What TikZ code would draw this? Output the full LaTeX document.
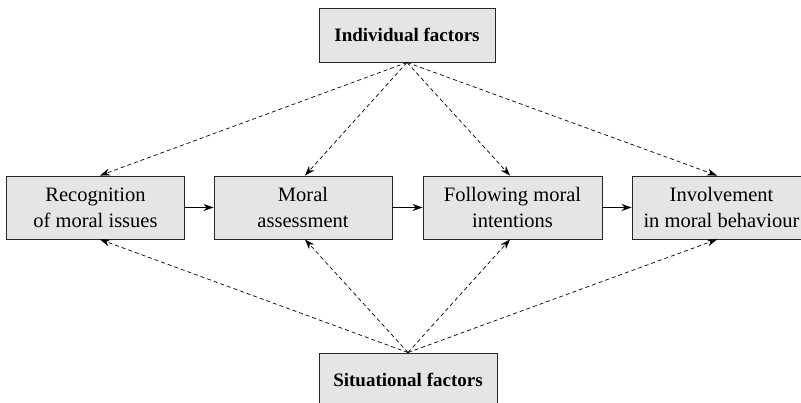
\documentclass[tikz,border=0pt]{standalone}
\usepackage{fontspec}
\setmainfont{Liberation Serif}
\usetikzlibrary{arrows.meta}
\begin{document}
\begin{tikzpicture}[x=1pt,y=1pt,
  box/.style={draw=black!85,line width=0.9pt,fill=black!10,align=center,inner sep=0pt,
    font=\fontsize{20.5}{26}\selectfont},
  stagebox/.style={box,minimum width=178pt,minimum height=63pt},
  factorbox/.style={box,minimum width=176pt,minimum height=54pt,font=\fontsize{19}{26}\selectfont\bfseries},
  dasharrow/.style={dashed,dash pattern=on 4pt off 3pt,line width=0.7pt,-{Stealth[length=10pt,width=7pt]}},
  solidarrow/.style={line width=0.7pt,-{Stealth[length=10pt,width=7pt]}}
]
\useasboundingbox (0,0) rectangle (801,403);
\clip (0,0) rectangle (801,403);
\node[factorbox] (ind) at (407,368) {Individual factors};
\node[factorbox,minimum width=178pt] (sit) at (408,23) {Situational factors};
\node[stagebox] (s1) at (95.5,195.5) {Recognition\\of moral issues};
\node[stagebox] (s2) at (303,195.5) {Moral\\assessment};
\node[stagebox,minimum width=179pt] (s3) at (512.5,195.5) {Following moral\\intentions};
\node[stagebox,minimum width=179pt] (s4) at (721.5,195.5) {Involvement\\in moral behaviour};
\draw[solidarrow] (s1) -- (s2);
\draw[solidarrow] (s2) -- (s3);
\draw[solidarrow] (s3) -- (s4);
\foreach \n/\dx in {s1/4.5,s2/2,s3/-2.5,s4/-4.5}{
  \draw[dasharrow] (ind.south) -- ([xshift=\dx pt]\n.north);
  \draw[dasharrow] (sit.north) -- ([xshift=\dx pt]\n.south);
}
\end{tikzpicture}
\end{document}
